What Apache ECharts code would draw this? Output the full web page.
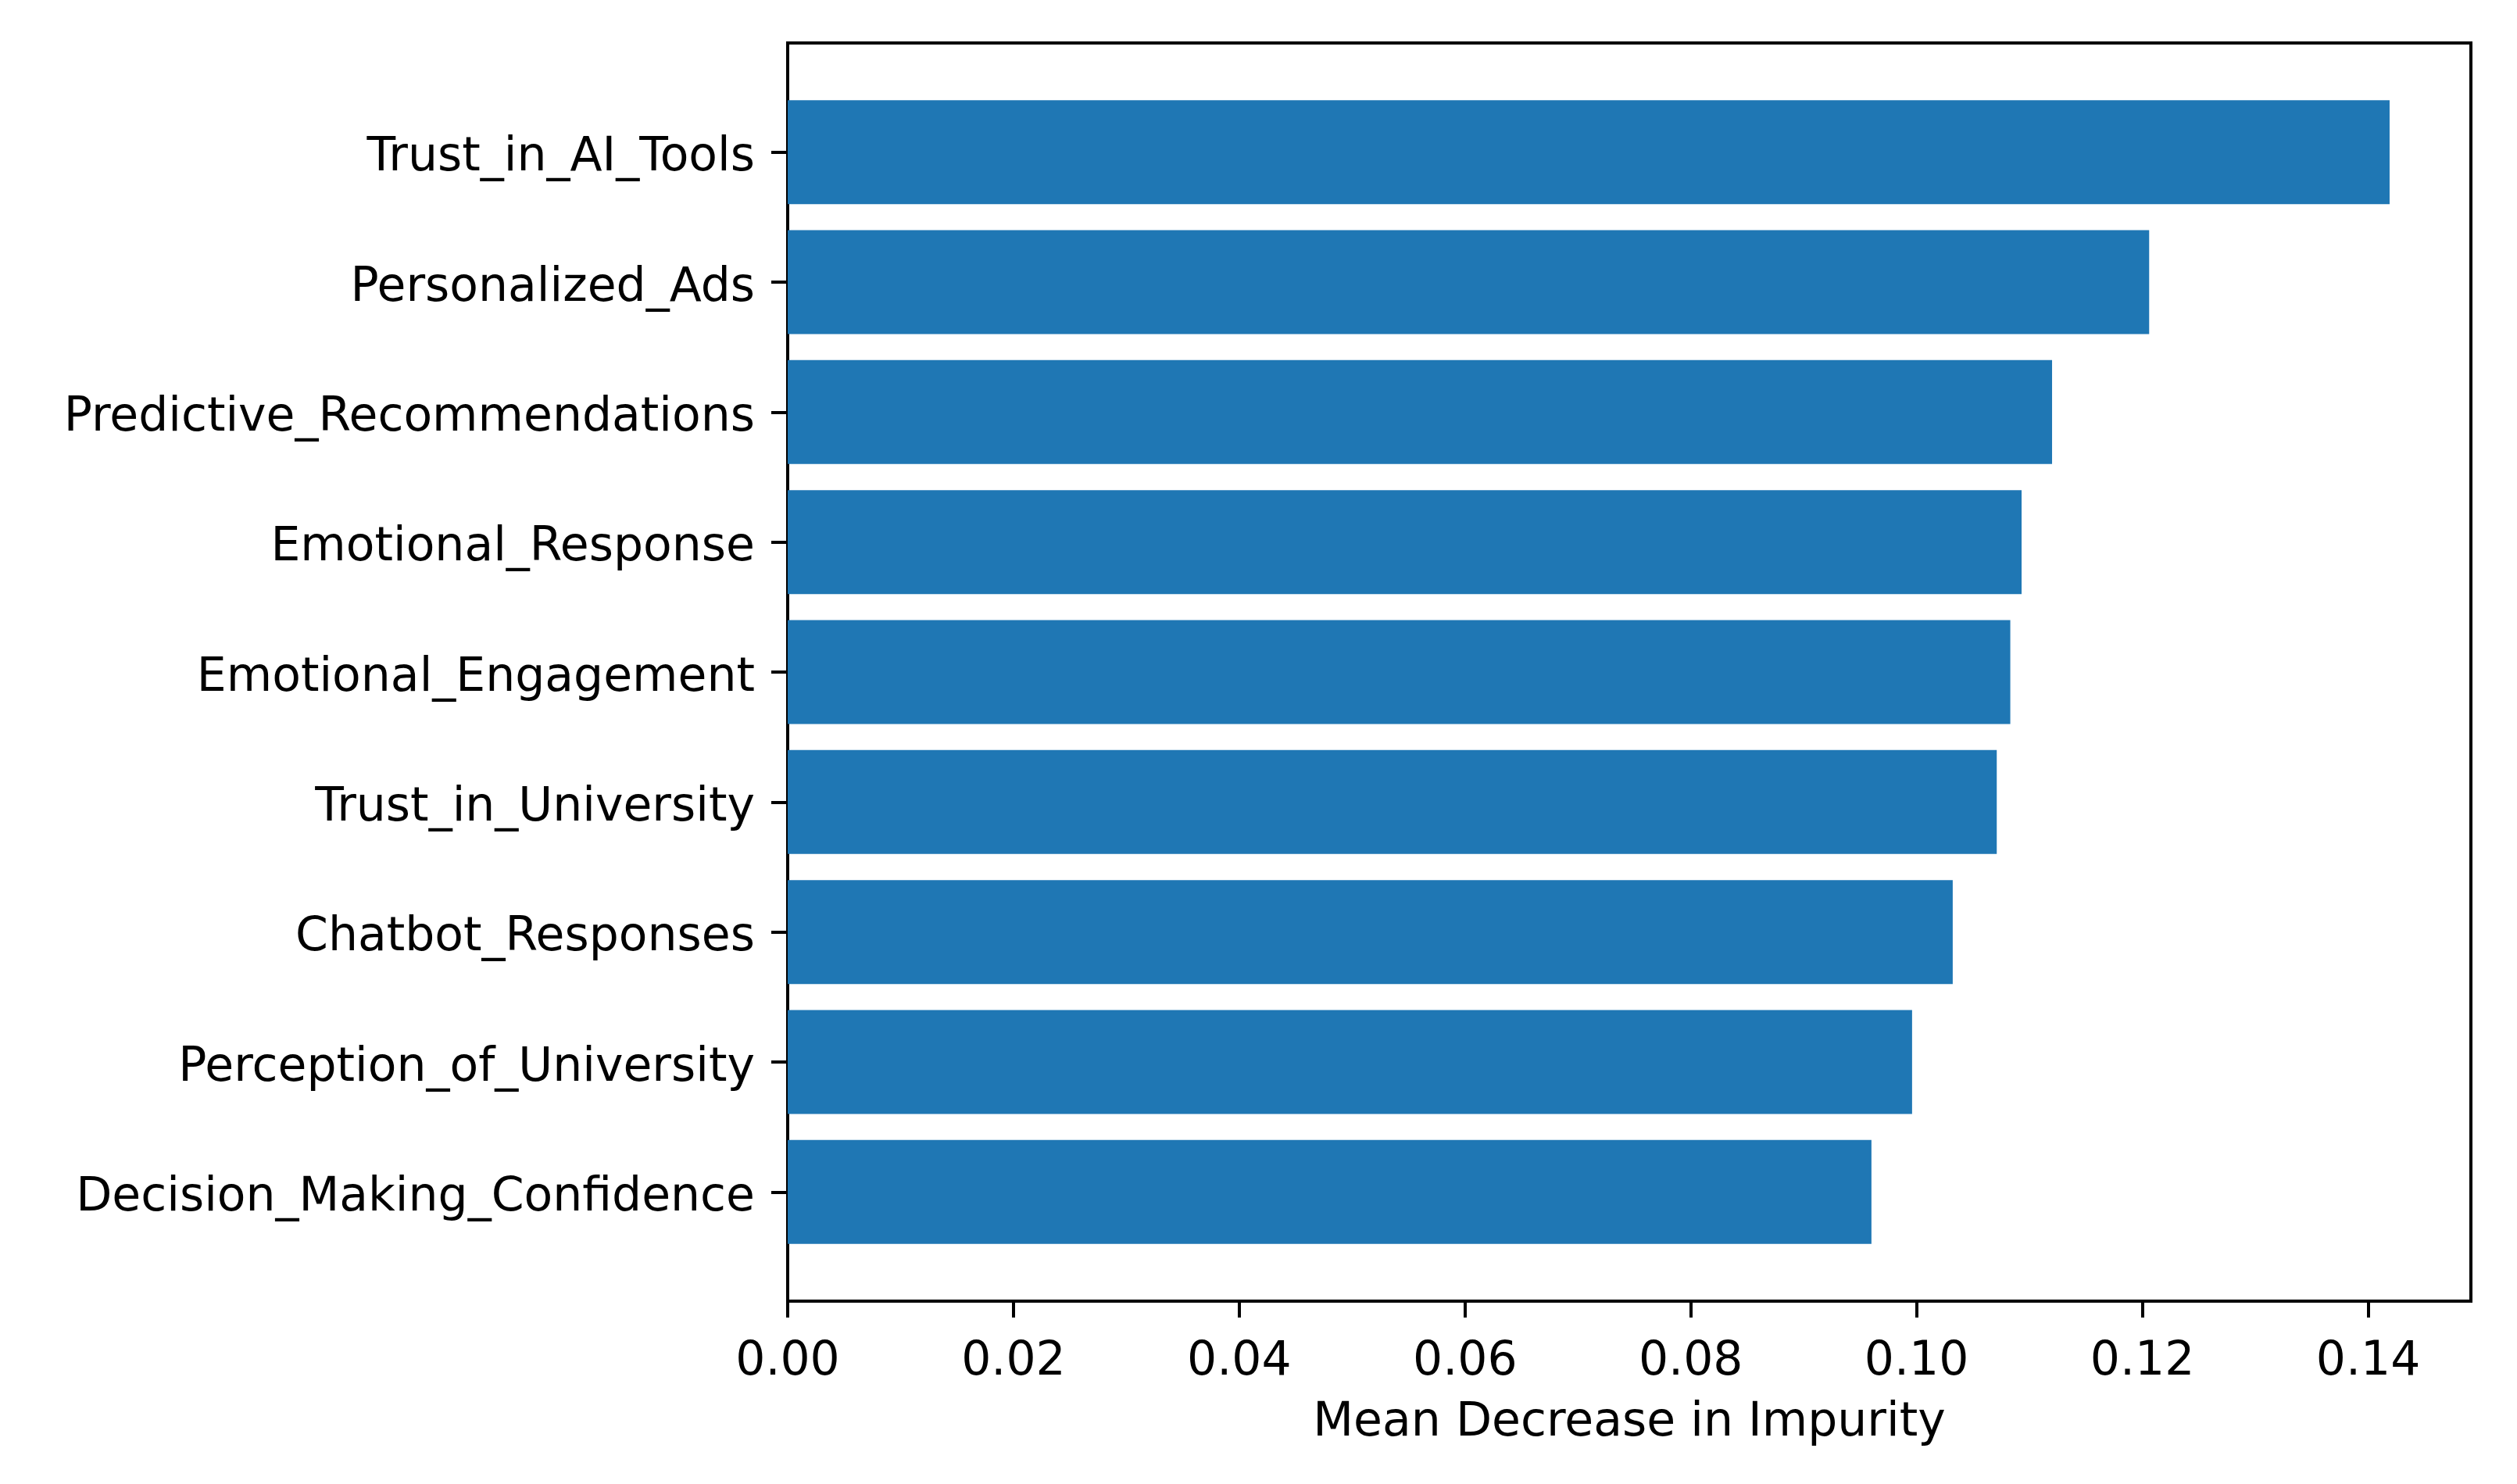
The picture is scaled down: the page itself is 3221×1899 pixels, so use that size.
<!DOCTYPE html>
<html>
<head>
<meta charset="utf-8">
<script src="https://cdn.jsdelivr.net/npm/echarts@6/dist/echarts.min.js"></script>
<style>html,body{margin:0;padding:0;background:#fff}#c{width:3221px;height:1899px}</style>
</head>
<body>
<div id="c"></div>
<script>
const categories = ["Trust_in_AI_Tools","Personalized_Ads","Predictive_Recommendations","Emotional_Response","Emotional_Engagement","Trust_in_University","Chatbot_Responses","Perception_of_University","Decision_Making_Confidence"];
const importance = [0.1419,0.1206,0.1120,0.1093,0.1083,0.1071,0.1032,0.0996,0.0960];
const xTicks = [0,0.02,0.04,0.06,0.08,0.10,0.12,0.14];
const xMin = 0, xMax = 0.1491;
const xTitle = "Mean Decrease in Impurity";

const FONT = "DejaVu Sans";
const FS = 60;
const chart = echarts.init(document.getElementById('c'), null, {renderer:'canvas'});
chart.setOption({
  animation:false,
  backgroundColor:'#fff',
  grid:[
    {left:1008, right:59, top:55, bottom:234, show:true, borderColor:'#000', borderWidth:4, backgroundColor:'transparent'},
    {left:1008, right:59, top:111.5, bottom:290.5, show:false}
  ],
  xAxis:[
    {gridIndex:0, type:'value', min:xMin, max:xMax,
      axisLine:{show:true, lineStyle:{color:'#000', width:4}},
      axisTick:{show:true, length:21, lineStyle:{color:'#000', width:4}, customValues:xTicks},
      axisLabel:{show:true, margin:48, color:'#000', fontFamily:FONT, fontSize:FS, customValues:xTicks, formatter:v=>v.toFixed(2)},
      splitLine:{show:false},
      name:xTitle, nameLocation:'middle', nameGap:126,
      nameTextStyle:{color:'#000', fontFamily:FONT, fontSize:FS}
    },
    {gridIndex:1, type:'value', min:xMin, max:xMax, show:false}
  ],
  yAxis:[
    {gridIndex:0, type:'value', min:0, max:1, show:false},
    {gridIndex:1, type:'category', data:categories, inverse:true,
      axisLine:{show:false},
      axisTick:{show:true, length:21, alignWithLabel:true, lineStyle:{color:'#000', width:4}},
      axisLabel:{margin:42, color:'#000', fontFamily:FONT, fontSize:FS,
        formatter:v=>'{a|'+v+'}',
        rich:{a:{color:'#000', fontFamily:FONT, fontSize:FS, padding:[16,0,0,0]}}},
      splitLine:{show:false}
    }
  ],
  series:[{
    type:'bar', xAxisIndex:1, yAxisIndex:1, data:importance, barWidth:'80%',
    itemStyle:{color:'#1f77b4'}
  }]
});
</script>
</body>
</html>
